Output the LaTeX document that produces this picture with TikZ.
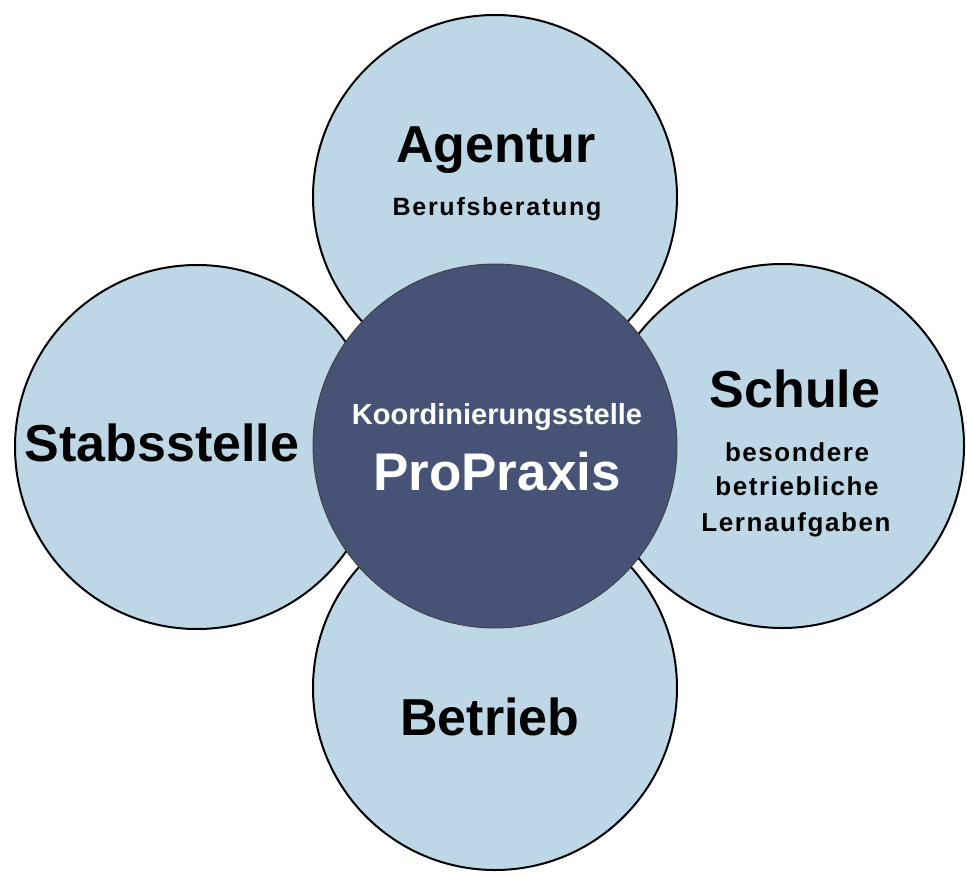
\documentclass[tikz,border=0pt]{standalone}
\usepackage{fontspec}
\setmainfont{Liberation Sans}
\definecolor{lightc}{RGB}{190,215,230}
\definecolor{darkc}{RGB}{71,82,119}
\begin{document}
\begin{tikzpicture}[x=1pt,y=-1pt,
  outer/.style={circle, draw=black, line width=2pt, fill=lightc, minimum size=364pt, inner sep=0pt},
  inner/.style={circle, draw=black!75, line width=0.9pt, fill=darkc, minimum size=364pt, inner sep=0pt},
  big/.style={font=\fontsize{52}{60}\selectfont\bfseries, anchor=base, inner sep=0pt},
  small/.style={font=\fontsize{26}{30}\selectfont\bfseries\addfontfeature{LetterSpace=6}, anchor=base, inner sep=0pt},
  mid/.style={font=\fontsize{29}{34}\selectfont\bfseries, anchor=base, inner sep=0pt, text=white}]
\useasboundingbox (0,0) rectangle (967,876);
\node[outer] (top) at (495,197) {};
\node[outer] (left) at (197,447) {};
\node[outer] (right) at (782,446) {};
\node[outer] (bottom) at (495,688) {};
\node[inner] (center) at (495,446) {};
% labels
\node[big] (agentur) at (496,162) {Agentur};
\node[small, font=\fontsize{25}{30}\selectfont\bfseries\addfontfeature{LetterSpace=7}] (beruf) at (497,215) {Berufsberatung};
\node[big] (stab) at (162,461) {Stabsstelle};
\node[big] (schule) at (795,407) {Schule};
\node[small] (s1) at (797,461) {besondere};
\node[small] (s2) at (797,495) {betriebliche};
\node[small] (s3) at (796,531) {Lernaufgaben};
\node[big] (betrieb) at (490,735) {Betrieb};
\node[mid] (koord) at (497,424) {Koordinierungsstelle};
\node[big, text=white, font=\fontsize{53}{60}\selectfont\bfseries] (pro) at (497,490) {ProPraxis};
\end{tikzpicture}
\end{document}
